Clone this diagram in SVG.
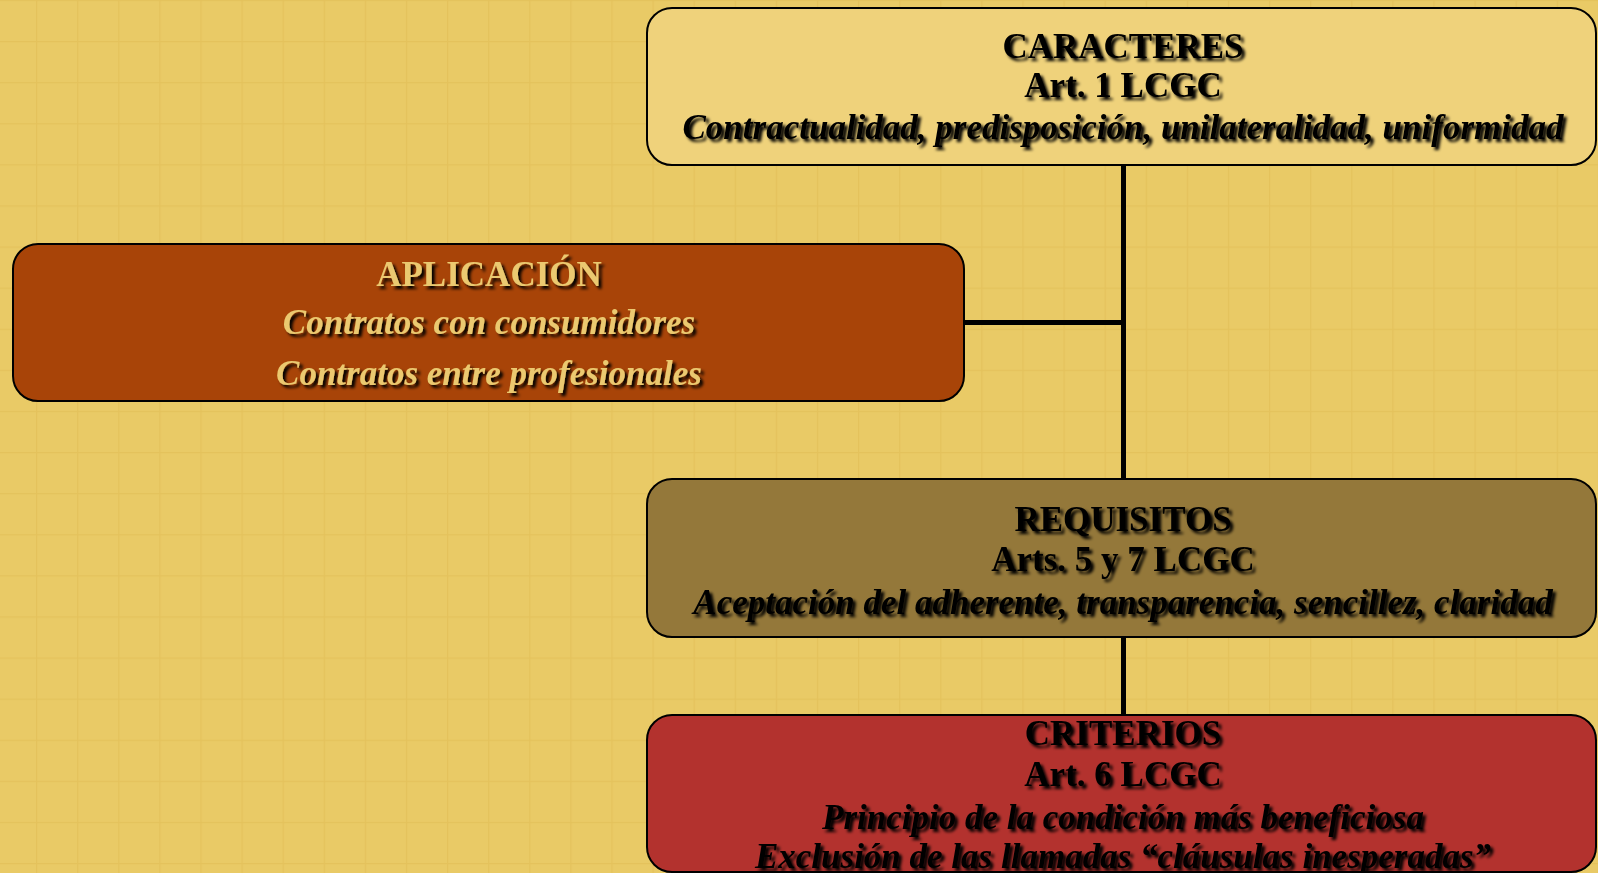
<svg xmlns="http://www.w3.org/2000/svg" width="1598" height="873" viewBox="0 0 1598 873">
<style>
.box{stroke:#000;stroke-width:2}
.t{font-family:"Liberation Serif","Times New Roman",serif;font-weight:bold;font-size:35px;text-anchor:middle;filter:url(#sh)}
.i{font-style:italic}
.dk{fill:#000}
.gd{fill:#EBC96F}
.conn{stroke:#000;stroke-width:5;fill:none}
</style>
<defs>
<pattern id="grid" x="36" y="41" width="41.1" height="41.1" patternUnits="userSpaceOnUse">
<path d="M0 0H41.1M0 0V41.1" stroke="#E4C25C" stroke-width="2.5" fill="none"/>
</pattern>
<filter id="sh" x="-5%" y="-20%" width="110%" height="150%">
<feDropShadow dx="3" dy="3" stdDeviation="1.7" flood-color="#000" flood-opacity="1"/>
</filter>
</defs>
<rect width="1598" height="873" fill="#E9CA66"/>
<rect width="1598" height="873" fill="url(#grid)"/>
<g id="connectors">
<line class="conn" x1="1123.5" y1="165" x2="1123.5" y2="479"/>
<line class="conn" x1="964" y1="322.5" x2="1123.5" y2="322.5"/>
<line class="conn" x1="1123.5" y1="637" x2="1123.5" y2="715"/>
</g>
<g id="caracteres">
<rect class="box" x="647" y="8" width="949" height="157" rx="25" fill="#EFD27B"/>
<text class="t dk" x="1123" y="58">CARACTERES</text>
<text class="t dk" x="1123" y="97">Art. 1 LCGC</text>
<text class="t dk i" x="1123" y="139">Contractualidad, predisposición, unilateralidad, uniformidad</text>
</g>
<g id="aplicacion">
<rect class="box" x="13" y="244" width="951" height="157" rx="25" fill="#A84408"/>
<text class="t gd" x="489" y="286">APLICACIÓN</text>
<text class="t gd i" x="489" y="334">Contratos con consumidores</text>
<text class="t gd i" x="489" y="385">Contratos entre profesionales</text>
</g>
<g id="requisitos">
<rect class="box" x="647" y="479" width="949" height="158" rx="25" fill="#94783A"/>
<text class="t dk" x="1123" y="531">REQUISITOS</text>
<text class="t dk" x="1123" y="571">Arts. 5 y 7 LCGC</text>
<text class="t dk i" x="1123" y="614">Aceptación del adherente, transparencia, sencillez, claridad</text>
</g>
<g id="criterios">
<rect class="box" x="647" y="715" width="949" height="157" rx="25" fill="#B3322E"/>
<text class="t dk" x="1123" y="745">CRITERIOS</text>
<text class="t dk" x="1123" y="786">Art. 6 LCGC</text>
<text class="t dk i" x="1123" y="829">Principio de la condición más beneficiosa</text>
<text class="t dk i" x="1123" y="868">Exclusión de las llamadas “cláusulas inesperadas”</text>
</g>
</svg>
